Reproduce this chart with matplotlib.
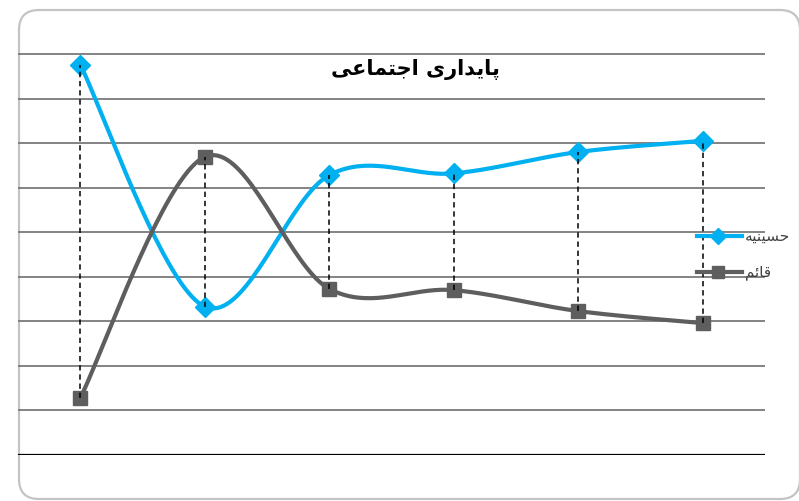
import numpy as np
import matplotlib
matplotlib.use("Agg")
import matplotlib.pyplot as plt
from matplotlib.patches import FancyBboxPatch
from matplotlib.lines import Line2D

# ---- data -------------------------------------------------------------
title = "پایداری اجتماعی"
series_names = ["حسینیه", "قائم"]
categories = [1, 2, 3, 4, 5, 6]
hosseinieh = [8.76, 3.33, 6.28, 6.32, 6.80, 7.05]
ghaem = [1.28, 6.69, 3.73, 3.70, 3.23, 2.96]
y_gridlines = [1, 2, 3, 4, 5, 6, 7, 8, 9]

BLUE = "#00B0F0"
GRAY = "#5E5E5E"

# ---- simple Arabic-script shaping (contextual forms + visual order) ----
FORMS = {  # iso, fin, ini, med
    "ا": ("\uFE8D", "\uFE8E", None, None),
    "د": ("\uFEA9", "\uFEAA", None, None),
    "ر": ("\uFEAD", "\uFEAE", None, None),
    "ی": ("\uFBFC", "\uFBFD", "\uFBFE", "\uFBFF"),
    "پ": ("\uFB56", "\uFB57", "\uFB58", "\uFB59"),
    "ج": ("\uFE9D", "\uFE9E", "\uFE9F", "\uFEA0"),
    "ت": ("\uFE95", "\uFE96", "\uFE97", "\uFE98"),
    "م": ("\uFEE1", "\uFEE2", "\uFEE3", "\uFEE4"),
    "ع": ("\uFEC9", "\uFECA", "\uFECB", "\uFECC"),
    "ح": ("\uFEA1", "\uFEA2", "\uFEA3", "\uFEA4"),
    "س": ("\uFEB1", "\uFEB2", "\uFEB3", "\uFEB4"),
    "ن": ("\uFEE5", "\uFEE6", "\uFEE7", "\uFEE8"),
    "ه": ("\uFEE9", "\uFEEA", "\uFEEB", "\uFEEC"),
    "ق": ("\uFED5", "\uFED6", "\uFED7", "\uFED8"),
    "ئ": ("\uFE89", "\uFE8A", "\uFE8B", "\uFE8C"),
}


def shape(text):
    def dual(c):
        return c in FORMS and FORMS[c][2] is not None

    out = []
    for i, c in enumerate(text):
        if c not in FORMS:
            out.append(c)
            continue
        prev_c = text[i - 1] if i > 0 else ""
        next_c = text[i + 1] if i + 1 < len(text) else ""
        join_prev = dual(prev_c)
        join_next = dual(c) and next_c in FORMS
        iso, fin, ini, med = FORMS[c]
        if join_prev and join_next:
            out.append(med)
        elif join_prev:
            out.append(fin)
        elif join_next:
            out.append(ini)
        else:
            out.append(iso)
    return "".join(reversed(out))


def smooth(xs, ys, n=40):
    """Catmull-Rom style cubic Bezier curve through the points."""
    p = np.column_stack([xs, ys]).astype(float)
    ext = np.vstack([p[0], p, p[-1]])
    t = np.linspace(0, 1, n)[:, None]
    segs = []
    for i in range(len(p) - 1):
        p0, p3 = ext[i + 1], ext[i + 2]
        c1 = p0 + (ext[i + 2] - ext[i]) / 6.0
        c2 = p3 - (ext[i + 3] - ext[i + 1]) / 6.0
        seg = ((1 - t) ** 3) * p0 + 3 * ((1 - t) ** 2) * t * c1 \
            + 3 * (1 - t) * t ** 2 * c2 + t ** 3 * p3
        segs.append(seg if i == 0 else seg[1:])
    s = np.vstack(segs)
    return s[:, 0], s[:, 1]


W, H = 799, 501
fig = plt.figure(figsize=(W / 100, H / 100), dpi=100)
fig.patch.set_facecolor("white")

# chart frame
frame = FancyBboxPatch((19 / W, 2 / H), (800 - 19) / W, (491 - 2) / H,
                       boxstyle="round,pad=0,rounding_size=0.025",
                       transform=fig.transFigure, facecolor="white",
                       edgecolor="#C4C4C4", linewidth=1.6, zorder=-5,
                       mutation_aspect=W / H)
fig.patches.append(frame)

ax = fig.add_axes([18 / W, 46 / H, (765 - 18) / W, (455 - 9.4) / H])
ax.set_zorder(2)
ax.set_facecolor("none")
for s in ax.spines.values():
    s.set_visible(False)
ax.set_xticks([])
ax.set_yticks([])

x = np.arange(len(categories))
ax.set_xlim(-0.5, len(categories) - 0.5)
ax.set_ylim(0, 10)

for g in y_gridlines:
    ax.axhline(g, color="#7A7A7A", lw=1.3, zorder=1)
ax.axhline(0, color="black", lw=1.6, zorder=1)

# high-low connectors
for xi, a, b in zip(x, hosseinieh, ghaem):
    ax.plot([xi, xi], [min(a, b), max(a, b)], color="black", lw=1.1,
            ls=(0, (3.5, 2.5)), zorder=6)

for vals, col, mk, ms in [(hosseinieh, BLUE, "D", 10), (ghaem, GRAY, "s", 10.5)]:
    sx, sy = smooth(x, vals)
    ax.plot(sx, sy, color=col, lw=3.0, solid_capstyle="round", zorder=3)
    ax.plot(x, vals, ls="none", marker=mk, ms=ms, color=col, mec=col, zorder=4)

# title
fig.text(415 / W, 1 - 69 / H, shape(title), ha="center", va="center",
         fontsize=15, fontweight="bold", family="DejaVu Sans", color="black",
         zorder=5)

# legend
for yy, col, mk, ms, name in [(236, BLUE, "D", 8, series_names[0]),
                              (272, GRAY, "s", 9, series_names[1])]:
    fig.add_artist(Line2D([697 / W, 742 / W], [1 - yy / H, 1 - yy / H],
                          transform=fig.transFigure, color=col, lw=3.0,
                          zorder=5))
    fig.add_artist(Line2D([718 / W], [1 - yy / H], transform=fig.transFigure,
                          marker=mk, ms=ms, color=col, mec=col, ls="none",
                          zorder=5))
    fig.text(745 / W, 1 - yy / H, shape(name), ha="left", va="center",
             fontsize=11, family="DejaVu Sans", color="#404040", zorder=5)

fig.savefig("out.png", dpi=100)
